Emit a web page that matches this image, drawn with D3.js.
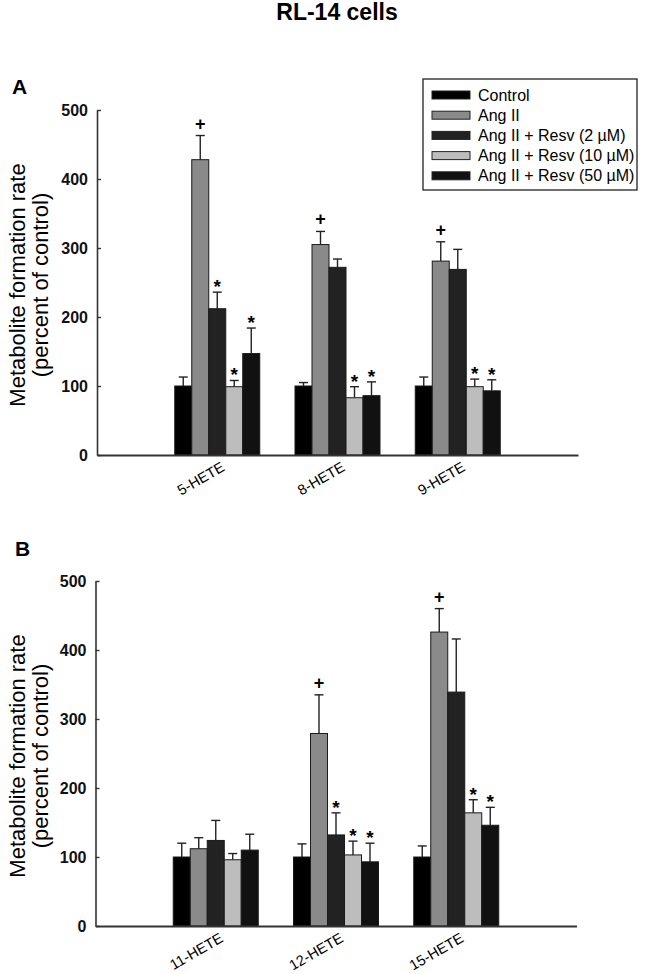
<!DOCTYPE html>
<html>
<head>
<meta charset="utf-8">
<script src="https://cdn.jsdelivr.net/npm/d3@7"></script>
<style>
  body { margin: 0; background: #fff; }
  text { font-family: "Liberation Sans", Arial, sans-serif; }
</style>
</head>
<body>
<svg id="canvas" width="650" height="974"></svg>
<script>
(function () {
    // series (legend order) and their fills
    var seriesNames = ["Control", "Ang II", "Ang II + Resv (2 \u00b5M)", "Ang II + Resv (10 \u00b5M)", "Ang II + Resv (50 \u00b5M)"];
    var seriesColors = ["#000000", "#8a8a8a", "#222222", "#bdbdbd", "#111111"];

    // panel A
    var categoriesA = ["5-HETE", "8-HETE", "9-HETE"];
    var meansA = [
        [100, 100, 100],   // Control
        [428, 305, 281],   // Ang II
        [212, 272, 269],   // + Resv 2
        [99, 83, 99],      // + Resv 10
        [147, 86, 93]      // + Resv 50
    ];
    var semA = [
        [13, 5, 13],
        [35, 19, 28],
        [24, 12, 29],
        [9, 16, 11],
        [37, 20, 16]
    ];
    var marksA = [
        ["", "+", "*", "*", "*"],
        ["", "+", "", "*", "*"],
        ["", "+", "", "*", "*"]
    ];

    // panel B
    var categoriesB = ["11-HETE", "12-HETE", "15-HETE"];
    var meansB = [
        [100, 100, 100],
        [112, 279, 426],
        [124, 132, 339],
        [96, 103, 164],
        [110, 93, 146]
    ];
    var semB = [
        [20, 19, 16],
        [16, 56, 34],
        [29, 32, 77],
        [9, 20, 19],
        [23, 27, 26]
    ];
    var marksB = [
        ["", "", "", "", ""],
        ["", "+", "*", "*", "*"],
        ["", "+", "", "*", "*"]
    ];

    var yTicks = [0, 100, 200, 300, 400, 500];

    const svg = d3.select("#canvas");

    // title
    svg.append("text")
        .attr("x", 337).attr("y", 20)
        .attr("text-anchor", "middle")
        .style("font-size", "23px").style("font-weight", "bold")
        .text("RL-14 cells");

    function panel(opts) {
        var x = d3.scaleLinear().domain([0, 4]).range([opts.x0, opts.x0 + 481]);
        var y = d3.scaleLinear().domain([0, 500]).range([opts.base, opts.base - 345]);
        var barW = 17;

        const g = svg.append("g");

        // panel letter
        g.append("text")
            .attr("x", opts.letterX).attr("y", opts.letterY)
            .style("font-size", "21px").style("font-weight", "bold")
            .text(opts.letter);

        // y axis title
        var yt = g.append("text")
            .attr("transform", "translate(" + 17 + "," + (opts.base - 170) + ") rotate(-90)")
            .attr("text-anchor", "middle")
            .style("font-size", "22px").attr("fill", "#000");
        yt.append("tspan").attr("x", 0).attr("dy", "0.35em").text("Metabolite formation rate");
        yt.append("tspan").attr("x", 0).attr("dy", "1.08em").text("(percent of control)");

        // bars
        opts.categories.forEach(function (cat, ci) {
            seriesNames.forEach(function (s, si) {
                var v = opts.means[si][ci];
                var e = opts.sem[si][ci];
                var left = x(ci + 1) + (si - 2.5) * barW;
                var cx = left + barW / 2;

                // error bar (upper only)
                g.append("line")
                    .attr("x1", cx).attr("x2", cx)
                    .attr("y1", y(v)).attr("y2", y(v + e))
                    .attr("stroke", "#222").attr("stroke-width", 1.4);
                g.append("line")
                    .attr("x1", cx - 4.5).attr("x2", cx + 4.5)
                    .attr("y1", y(v + e)).attr("y2", y(v + e))
                    .attr("stroke", "#222").attr("stroke-width", 1.4);

                g.append("rect")
                    .attr("x", left).attr("y", y(v))
                    .attr("width", barW).attr("height", y(0) - y(v))
                    .attr("fill", seriesColors[si])
                    .attr("stroke", "#1a1a1a").attr("stroke-width", 1);

                var m = opts.marks[ci][si];
                if (m) {
                    g.append("text")
                        .attr("x", cx).attr("y", y(v + e) + (m === "+" ? -6 : 1))
                        .attr("text-anchor", "middle")
                        .style("font-size", m === "+" ? "18px" : "19px")
                        .style("font-weight", "bold")
                        .text(m);
                }
            });
        });

        // y axis, ticks pointing inwards
        g.append("g")
            .attr("transform", "translate(" + opts.x0 + ",0)")
            .call(d3.axisLeft(y).tickValues(yTicks).tickSizeInner(-4).tickSizeOuter(0).tickPadding(9))
            .call(function (a) {
                a.select(".domain").attr("stroke", "#333").attr("stroke-width", 1.6);
                a.selectAll(".tick line").attr("stroke", "#333").attr("stroke-width", 1.4);
                a.selectAll("text").attr("fill", "#111")
                    .style("font-size", "16px").style("font-weight", "bold")
                    .style("font-family", "'Liberation Sans', Arial, sans-serif");
            });

        // x axis with slanted category labels
        g.append("g")
            .attr("transform", "translate(0," + opts.base + ")")
            .call(d3.axisBottom(x).tickValues([1, 2, 3]).tickSize(0)
                .tickFormat(function (d) { return opts.categories[d - 1]; }))
            .call(function (a) {
                a.select(".domain").attr("stroke", "#333").attr("stroke-width", 1.8);
                a.selectAll("text")
                    .attr("fill", "#000")
                    .style("font-size", "14.5px")
                    .style("font-family", "'Liberation Sans', Arial, sans-serif")
                    .style("text-anchor", "end")
                    .attr("y", 0).attr("dy", 0)
                    .attr("transform", "translate(8,15) rotate(-30)");
            });
    }

    panel({ x0: 97, base: 455, letter: "A", letterX: 12, letterY: 94,
        categories: categoriesA, means: meansA, sem: semA, marks: marksA });
    panel({ x0: 95.5, base: 926, letter: "B", letterX: 15, letterY: 556,
        categories: categoriesB, means: meansB, sem: semB, marks: marksB });

    // legend
    const lg = svg.append("g");
    lg.append("rect")
        .attr("x", 423).attr("y", 79).attr("width", 214).attr("height", 111)
        .attr("fill", "#fff").attr("stroke", "#222").attr("stroke-width", 1.3);
    seriesNames.forEach(function (s, i) {
        var cy = 95 + i * 20.2;
        lg.append("rect")
            .attr("x", 432).attr("y", cy - 4).attr("width", 38).attr("height", 8)
            .attr("fill", seriesColors[i]).attr("stroke", "#222").attr("stroke-width", 1);
        lg.append("text")
            .attr("x", 478).attr("y", cy + 5.5)
            .style("font-size", "16px").attr("fill", "#000")
            .text(s);
    });
})();
</script>
</body>
</html>
